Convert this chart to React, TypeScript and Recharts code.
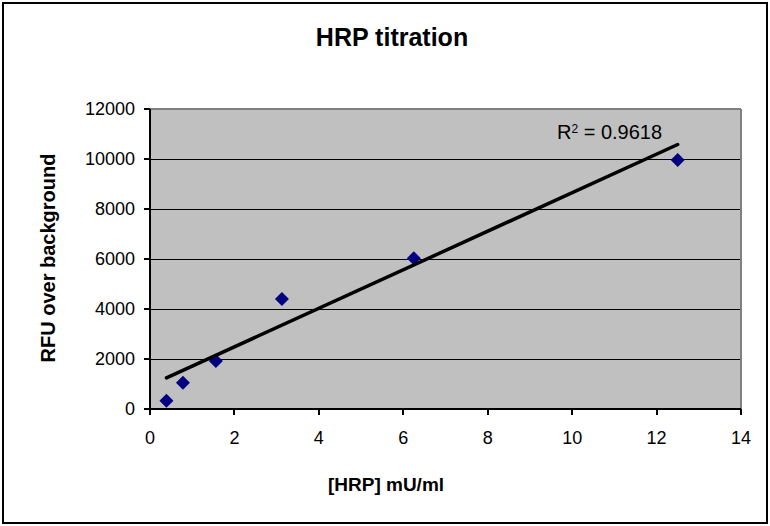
import React from 'react';
import { ScatterChart, Scatter, XAxis, YAxis, CartesianGrid, ReferenceLine } from 'recharts';

const xValues = [0.39, 0.78, 1.56, 3.125, 6.25, 12.5];
const yValues = [330, 1050, 1920, 4400, 6030, 9960];
const trendX = [0.39, 12.5];
const trendY = [1245, 10580];
const xTicks = [0, 2, 4, 6, 8, 10, 12, 14];
const yTicks = [0, 2000, 4000, 6000, 8000, 10000, 12000];

const points = xValues.map((x, i) => ({ x, y: yValues[i] }));
const trend = trendX.map((x, i) => ({ x, y: trendY[i] }));

const FONT = '"Liberation Sans", Arial, sans-serif';

const Diamond = (props: any) => {
  const { cx, cy } = props;
  const r = 7;
  return (
    <polygon
      points={`${cx},${cy - r} ${cx + r},${cy} ${cx},${cy + r} ${cx - r},${cy}`}
      fill="#000080"
    />
  );
};

const NoShape = () => <g />;

export default function App() {
  return (
    <div style={{ position: 'absolute', left: 0, top: 0, width: 770, height: 526, background: '#fff', fontFamily: FONT }}>
      <div style={{ position: 'absolute', left: 2, top: 2, width: 762, height: 518, border: '2px solid #000' }} />
      <ScatterChart width={770} height={526} margin={{ top: 109, right: 29, left: 90, bottom: 87 }}>
        <CartesianGrid
          vertical={false}
          stroke="#000"
          strokeWidth={1}
          strokeOpacity={1}
          fill="#C0C0C0"
          fillOpacity={1}
          shapeRendering="crispEdges"
        />
        <XAxis
          type="number"
          dataKey="x"
          domain={[0, 14]}
          ticks={xTicks}
          interval={0}
          height={30}
          tickSize={6}
          tickMargin={16}
          stroke="#000"
          axisLine={{ stroke: '#000', strokeWidth: 2, shapeRendering: 'crispEdges' }}
          tickLine={{ stroke: '#000', strokeWidth: 2, shapeRendering: 'crispEdges' }}
          tick={{ fill: '#000', fontSize: 18, fontFamily: FONT }}
          allowDataOverflow
        />
        <YAxis
          type="number"
          dataKey="y"
          domain={[0, 12000]}
          ticks={yTicks}
          interval={0}
          width={60}
          tickSize={6}
          tickMargin={9}
          stroke="#000"
          axisLine={{ stroke: '#000', strokeWidth: 2, shapeRendering: 'crispEdges' }}
          tickLine={{ stroke: '#000', strokeWidth: 2, shapeRendering: 'crispEdges' }}
          tick={{ fill: '#000', fontSize: 18, fontFamily: FONT }}
          allowDataOverflow
        />
        <ReferenceLine y={12000} stroke="#808080" strokeWidth={2} shapeRendering="crispEdges" />
        <ReferenceLine x={14} stroke="#808080" strokeWidth={2} shapeRendering="crispEdges" />
        <Scatter data={points} shape={Diamond} isAnimationActive={false} />
        <Scatter data={trend} line={{ stroke: '#000', strokeWidth: 3.5, strokeLinecap: 'round' }} shape={NoShape} isAnimationActive={false} />
      </ScatterChart>
      <div style={{ position: 'absolute', left: 0, width: 784, top: 24, textAlign: 'center', fontSize: 25, fontWeight: 'bold', lineHeight: '26px' }}>
        HRP titration
      </div>
      <div style={{ position: 'absolute', left: 286, width: 200, top: 474, textAlign: 'center', fontSize: 19, fontWeight: 'bold', lineHeight: '22px' }}>
        [HRP] mU/ml
      </div>
      <div style={{ position: 'absolute', left: 48, top: 258, width: 0, height: 0 }}>
        <div style={{ position: 'absolute', left: -150, top: -11, width: 300, textAlign: 'center', fontSize: 20, fontWeight: 'bold', lineHeight: '22px', transform: 'rotate(-90deg)' }}>
          RFU over background
        </div>
      </div>
      <div style={{ position: 'absolute', left: 557, top: 121, fontSize: 20, lineHeight: '22px', whiteSpace: 'nowrap' }}>
        R<sup style={{ fontSize: 12, verticalAlign: 'top', position: 'relative', top: -3 }}>2</sup> = 0.9618
      </div>
    </div>
  );
}
